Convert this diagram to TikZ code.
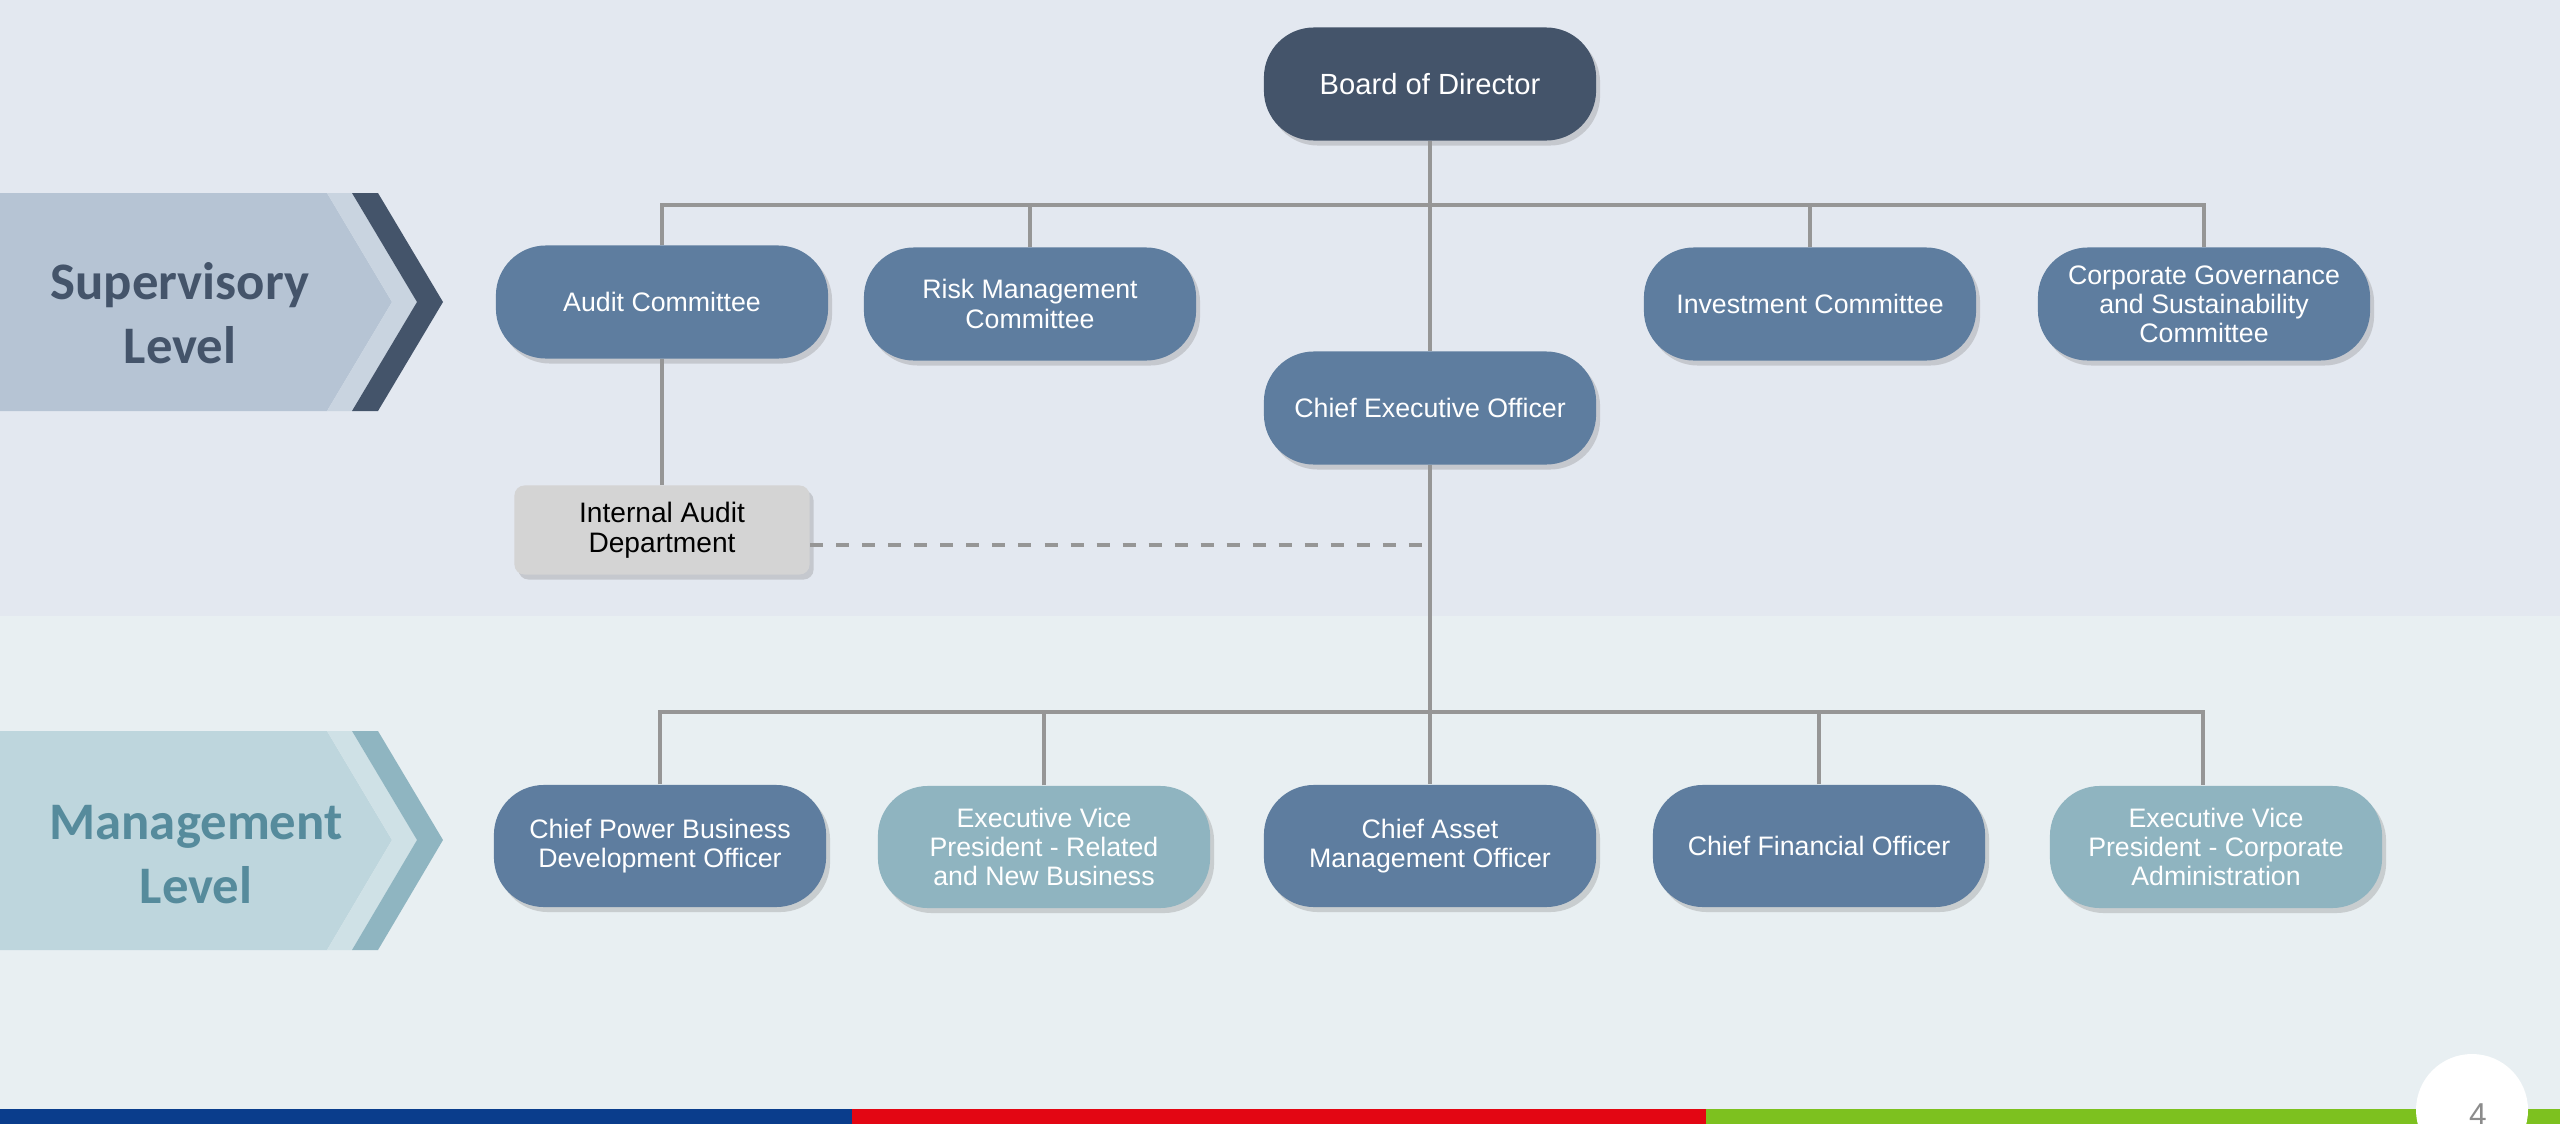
\documentclass[tikz,border=0pt]{standalone}
\usepackage{fontspec}
\setmainfont{Liberation Sans}
\newfontfamily\levelfont{Carlito}
\usetikzlibrary{shadows}

\definecolor{topbg}{HTML}{E3E8F0}
\definecolor{lowbg}{HTML}{E8EFF2}
\definecolor{boardblue}{HTML}{44546A}
\definecolor{officeblue}{HTML}{5E7D9F}
\definecolor{evpteal}{HTML}{8FB4C0}
\definecolor{deptgray}{HTML}{D4D4D4}
\definecolor{linegray}{HTML}{969696}
\definecolor{suppanel}{HTML}{B6C4D4}
\definecolor{supstrip}{HTML}{C9D4E0}
\definecolor{mgmtpanel}{HTML}{BED6DD}
\definecolor{mgmtstrip}{HTML}{CFE1E6}
\definecolor{mgmtdark}{HTML}{8FB5C1}
\definecolor{mgmttext}{HTML}{568B9C}
\definecolor{stripblue}{HTML}{0A3D8C}
\definecolor{stripred}{HTML}{E30613}
\definecolor{stripgreen}{HTML}{7DC11F}

\tikzset{
  post/.style={rounded corners=0.5cm, minimum width=3.32cm, minimum height=1.13cm,
    align=center, text=white, inner sep=2pt, font=\fontsize{7.6}{8.3}\selectfont,
    drop shadow={shadow xshift=0.04cm, shadow yshift=-0.05cm, opacity=0.3}},
  board/.style={post, fill=boardblue, font=\fontsize{8.3}{9}\selectfont},
  office/.style={post, fill=officeblue},
  mgmt/.style={office, minimum height=1.22cm},
  evp/.style={post, fill=evpteal, minimum height=1.22cm},
  dept/.style={rounded corners=0.1cm, minimum width=2.95cm, minimum height=0.89cm,
    align=center, inner sep=2pt, fill=deptgray, font=\fontsize{8}{8.6}\selectfont,
    drop shadow={shadow xshift=0.04cm, shadow yshift=-0.05cm, opacity=0.3}},
  link/.style={draw=linegray, line width=0.95pt},
  levellabel/.style={align=center, font=\levelfont\bfseries\fontsize{15}{18.2}\selectfont},
}

\begin{document}
\begin{tikzpicture}[x=0.01cm, y=-0.01cm]
  \useasboundingbox (0,0) rectangle (2560,1124);
  \clip (0,0) rectangle (2560,1124);

  % backgrounds
  \fill[topbg] (0,0) rectangle (2560,616);
  \fill[lowbg] (0,616) rectangle (2560,1109);
  \fill[stripblue] (0,1109) rectangle (852,1124);
  \fill[stripred] (852,1109) rectangle (1706,1124);
  \fill[stripgreen] (1706,1109) rectangle (2560,1124);
  \fill[white] (2472,1110) circle (56);
  \node[anchor=base, text=black!45, font=\fontsize{9}{10}\selectfont] (pnum) at (2478,1125) {4};

  % level chevrons
  \fill[suppanel] (0,193) -- (327,193) -- (392,302) -- (327,411) -- (0,411) -- cycle;
  \fill[supstrip] (327,193) -- (352,193) -- (417,302) -- (352,411) -- (327,411) -- (392,302) -- cycle;
  \fill[boardblue] (352,193) -- (378,193) -- (443,302) -- (378,411) -- (352,411) -- (417,302) -- cycle;
  \node[levellabel, text=boardblue] (suplevel) at (180,313) {Supervisory\\Level};

  \fill[mgmtpanel] (0,731) -- (327,731) -- (392,840) -- (327,950) -- (0,950) -- cycle;
  \fill[mgmtstrip] (327,731) -- (352,731) -- (417,840) -- (352,950) -- (327,950) -- (392,840) -- cycle;
  \fill[mgmtdark] (352,731) -- (378,731) -- (443,840) -- (378,950) -- (352,950) -- (417,840) -- cycle;
  \node[levellabel, text=mgmttext] (mgmtlevel) at (196,855) {Management\\Level};

  % supervisory level
  \node[board] (bod) at (1430,84) {Board of Director};
  \node[office] (audit) at (662,302) {Audit Committee};
  \node[office] (risk) at (1030,304) {Risk Management\\Committee};
  \node[office] (invest) at (1810,304) {Investment Committee};
  \node[office] (cgsc) at (2204,304) {Corporate Governance\\and Sustainability\\Committee};
  \node[office] (ceo) at (1430,408) {Chief Executive Officer};
  \node[dept] (iad) at (662,530) {Internal Audit\\Department};

  % management level
  \node[mgmt] (cpbdo) at (660,846) {Chief Power Business\\Development Officer};
  \node[evp] (evprnb) at (1044,847) {Executive Vice\\President - Related\\and New Business};
  \node[mgmt] (camo) at (1430,846) {Chief Asset\\Management Officer};
  \node[mgmt] (cfo) at (1819,846) {Chief Financial Officer};
  \node[evp] (evpca) at (2216,847) {Executive Vice\\President - Corporate\\Administration};

  \coordinate (topbus) at (1430,205);
  \coordinate (mgmtbus) at (1430,712);

  % connectors
  \draw[link] (bod) -- (ceo);
  \draw[link] (audit.north) |- (topbus) -| (cgsc.north);
  \draw[link] (risk.north) -- (risk.north |- topbus);
  \draw[link] (invest.north) -- (invest.north |- topbus);
  \draw[link] (audit) -- (iad);
  \draw[link, dash pattern=on 3.7pt off 3.7pt] ([yshift=-0.15cm]iad.east) -- ([yshift=-0.15cm]iad.east -| ceo);
  \draw[link] (ceo) -- (camo);
  \draw[link] (cpbdo.north) |- (mgmtbus) -| ([xshift=-0.13cm]evpca.north);
  \draw[link] (evprnb.north) -- (evprnb.north |- mgmtbus);
  \draw[link] (cfo.north) -- (cfo.north |- mgmtbus);
\end{tikzpicture}
\end{document}
